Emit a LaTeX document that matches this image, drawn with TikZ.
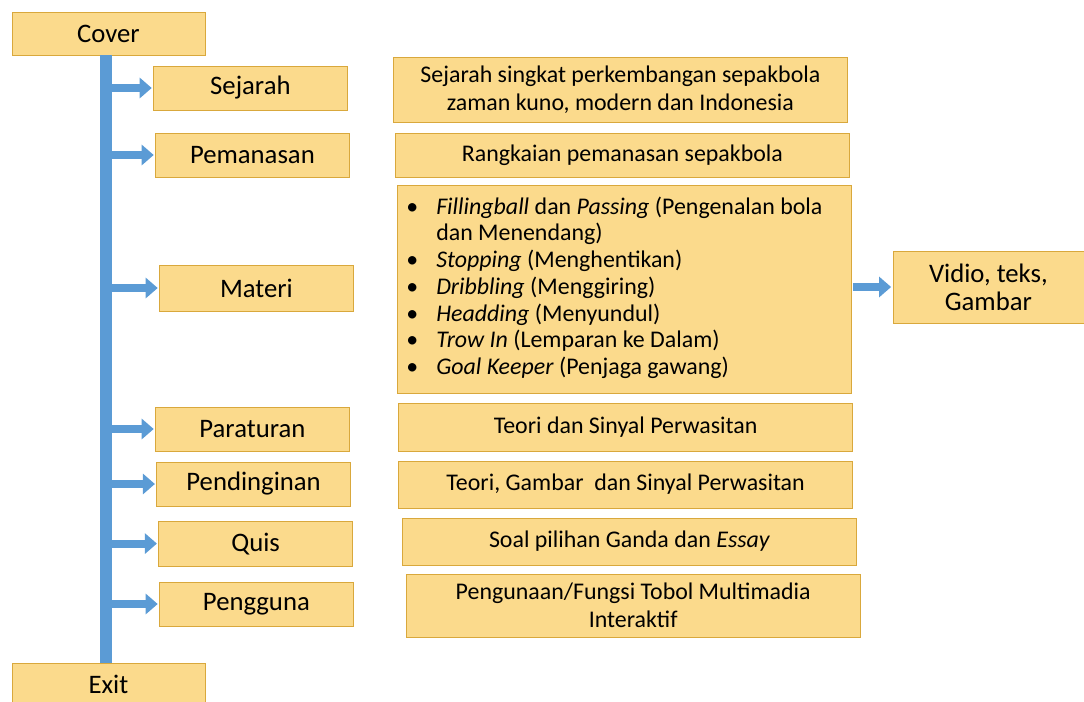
\documentclass[tikz,border=0pt]{standalone}
\usepackage{fontspec}
\setmainfont{Carlito}
\usetikzlibrary{arrows.meta,positioning}
\definecolor{boxfill}{HTML}{FBDA8C}
\definecolor{boxline}{HTML}{D9A83C}
\definecolor{barblue}{HTML}{5B9BD5}

\begin{document}
\begin{tikzpicture}[every node/.style={font=\fontsize{17}{19.5}\selectfont}, box/.style={draw=boxline,fill=boxfill,align=center,minimum width=4.85cm,minimum height=1.1cm,inner sep=2pt,font=\fontsize{19}{21}\selectfont}, desc/.style={box,minimum width=11.35cm,font=\fontsize{17}{20}\selectfont}, link/.style={barblue,line width=0.2cm,-{Triangle[width=0.5cm,length=0.3cm]},shorten >=1pt}]
\useasboundingbox (0,0) rectangle (27.1,-17.55);
\node[box,minimum width=4.83cm,minimum height=1.08cm] (cover) at (2.71,-0.84) {Cover};
\node[box,minimum width=4.83cm,minimum height=1.08cm] (exit) at (2.71,-17.11) {Exit};
\node[box] (sej) at (6.26,-2.2) {Sejarah};
\node[box] (pem) at (6.31,-3.875) {Pemanasan};
\node[box,minimum height=1.15cm] (mat) at (6.41,-7.2) {Materi};
\node[box] (par) at (6.31,-10.725) {Paraturan};
\node[box] (pen) at (6.34,-12.1) {Pendinginan};
\node[box,minimum height=1.12cm] (qui) at (6.39,-13.59) {Quis};
\node[box] (pgu) at (6.41,-15.1) {Pengguna};
\node[desc,minimum height=1.625cm] (sejdesc) at (15.51,-2.24) {Sejarah singkat perkembangan sepakbola\\zaman kuno, modern dan Indonesia};
\node[desc] (pemdesc) at (15.56,-3.875) {Rangkaian pemanasan sepakbola};
\node[desc,minimum height=5.2cm,font=\fontsize{17}{19}\selectfont] (matdesc) at (15.61,-7.225) {\begin{tabular}{@{}l@{\hspace{0.45cm}}l@{\hspace{0.5cm}}}
\textbullet & \textit{Fillingball} dan \textit{Passing} (Pengenalan bola\\
 & dan Menendang)\\
\textbullet & \textit{Stopping} (Menghentikan)\\
\textbullet & \textit{Dribbling} (Menggiring)\\
\textbullet & \textit{Headding} (Menyundul)\\
\textbullet & \textit{Trow In} (Lemparan ke Dalam)\\
\textbullet & \textit{Goal Keeper} (Penjaga gawang)
\end{tabular}};
\node[desc,minimum height=1.2cm] (pardesc) at (15.64,-10.675) {Teori dan Sinyal Perwasitan};
\node[desc,minimum height=1.18cm] (pendesc) at (15.64,-12.11) {Teori, Gambar\ \ dan Sinyal Perwasitan};
\node[desc,minimum height=1.18cm] (quidesc) at (15.74,-13.54) {Soal pilihan Ganda dan \textit{Essay}};
\node[desc,minimum height=1.575cm] (pgudesc) at (15.83,-15.14) {Pengunaan/Fungsi Tobol Multimadia\\Interaktif};
\node[box,minimum width=4.78cm,minimum height=1.8cm,font=\fontsize{19}{20}\selectfont] (media) at (24.71,-7.175) {Vidio, teks,\\Gambar};
\draw[barblue,line width=0.3cm] ([xshift=-0.06cm]cover.south) -- ([xshift=-0.06cm]exit.north);
\foreach \n in {sej,pem,mat,par,pen,qui,pgu}
  \draw[link] ([xshift=-0.06cm]cover.south |- \n.west) -- (\n.west);
\draw[link,shorten <=1pt] (matdesc.east |- media.west) -- (media.west);
\end{tikzpicture}
\end{document}
